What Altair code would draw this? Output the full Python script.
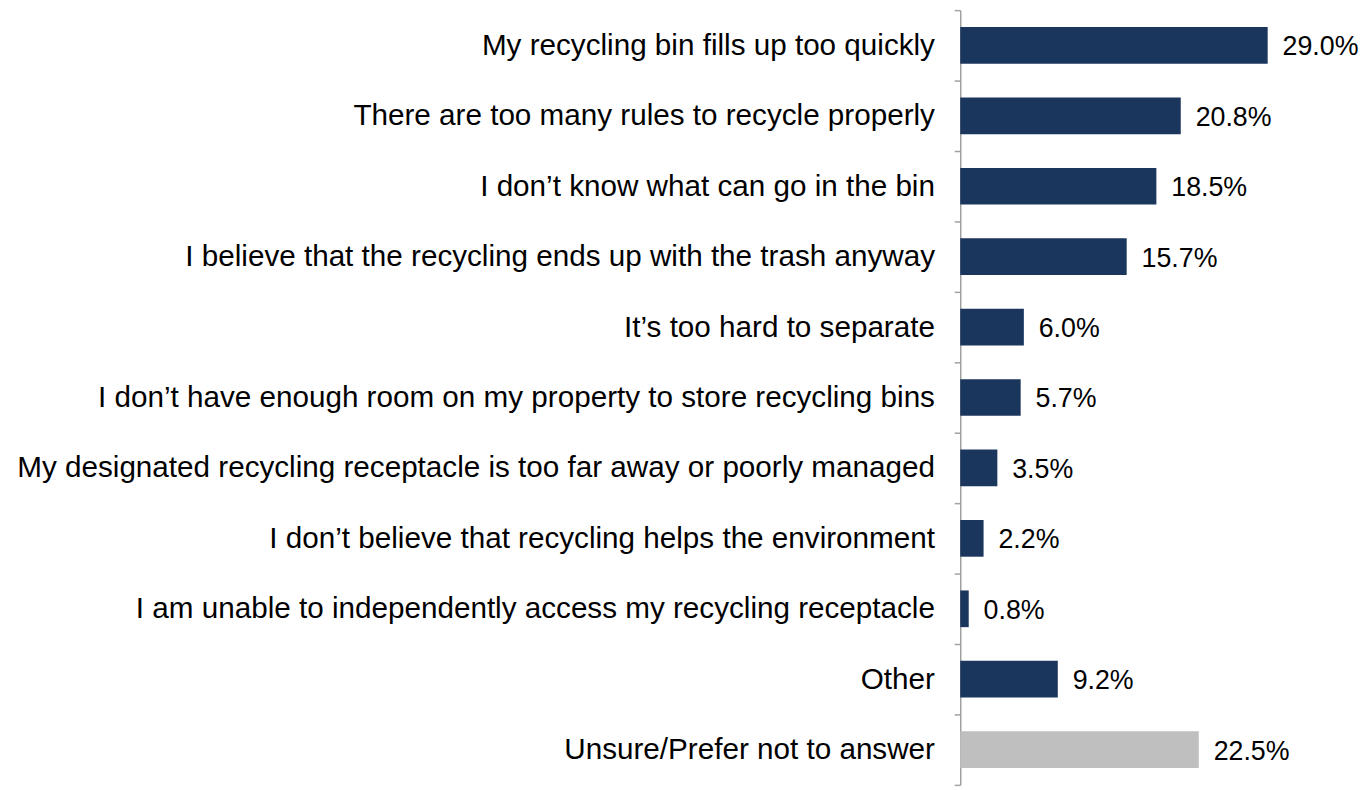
import altair as alt
import pandas as pd

categories = [
    "My recycling bin fills up too quickly",
    "There are too many rules to recycle properly",
    "I don\u2019t know what can go in the bin",
    "I believe that the recycling ends up with the trash anyway",
    "It\u2019s too hard to separate",
    "I don\u2019t have enough room on my property to store recycling bins",
    "My designated recycling receptacle is too far away or poorly managed",
    "I don\u2019t believe that recycling helps the environment",
    "I am unable to independently access my recycling receptacle",
    "Other",
    "Unsure/Prefer not to answer",
]
values = [29.0, 20.8, 18.5, 15.7, 6.0, 5.7, 3.5, 2.2, 0.8, 9.2, 22.5]
groups = ["main"] * 10 + ["unsure"]

df = pd.DataFrame({"category": categories, "value": values, "group": groups})
df["label"] = df["value"].map(lambda v: f"{v:.1f}%")

FONT = "Liberation Sans"

y_enc = alt.Y(
    "category:N",
    sort=categories,
    scale=alt.Scale(paddingInner=0, paddingOuter=0),
    axis=alt.Axis(
        title=None,
        labelFont=FONT,
        labelFontSize=29.9,
        labelColor="#000000",
        labelPadding=20,
        labelLimit=1000,
        tickBand="extent",
        tickSize=6,
        tickColor="#a0a0a0",
        domainColor="#a0a0a0",
        domainWidth=1.5,
        tickWidth=1.5,
        grid=False,
    ),
)
x_enc = alt.X("value:Q", scale=alt.Scale(domain=[0, 32], nice=False), axis=None)

bars = alt.Chart(df).mark_bar(size=37).encode(
    y=y_enc,
    x=x_enc,
    color=alt.Color(
        "group:N",
        scale=alt.Scale(domain=["main", "unsure"], range=["#1b365d", "#bfbfbf"]),
        legend=None,
    ),
)
text = alt.Chart(df).mark_text(
    align="left", baseline="middle", dx=15, dy=2, font=FONT, fontSize=27, color="#000000"
).encode(y=alt.Y("category:N", sort=categories), x="value:Q", text="label:N")

chart = (
    (bars + text)
    .properties(width=342, height=781, padding={"top": -16, "left": 8, "right": 0, "bottom": 0})
    .configure_view(stroke=None)
)
chart.save("out.html", embed_options={"renderer": "svg", "actions": False})
